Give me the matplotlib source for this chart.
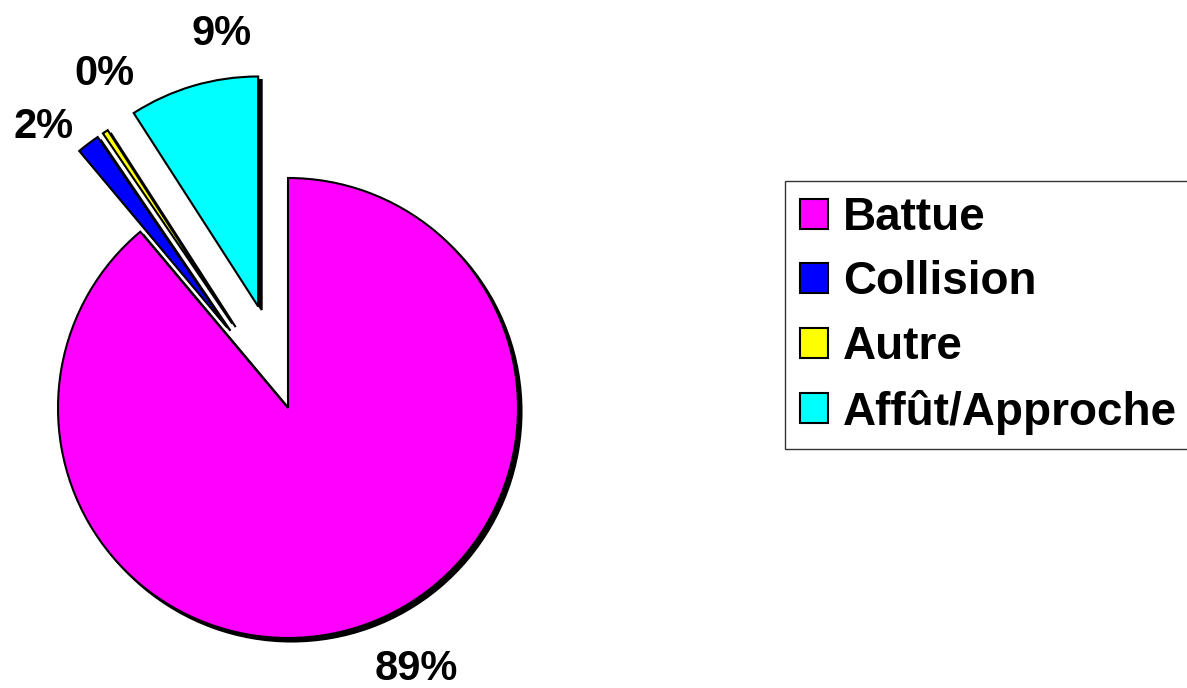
import matplotlib
matplotlib.use("Agg")
import matplotlib.pyplot as plt

# ---- data ----
categories = ["Battue", "Collision", "Autre", "Affût/Approche"]
values = [88.9, 1.6, 0.4, 9.1]
colors = ["#FF00FF", "#0000FF", "#FFFF00", "#00FFFF"]
explode = [0.0, 0.44, 0.44, 0.46]

plt.rcParams['font.family'] = ['Liberation Sans', 'DejaVu Sans']

W, H = 1187, 688
fig = plt.figure(figsize=(W / 100, H / 100), dpi=100)
ax = fig.add_axes([0, 0, 1, 1])
R = 230.0
cx, cy = 288.0, 408.0

# shadow
sh = 3.5 / R
ax.pie(values, explode=explode, colors=['black'] * len(values), startangle=90,
       counterclock=False, radius=1, center=(sh, -sh),
       wedgeprops=dict(edgecolor='black', linewidth=1.5), frame=True)

wedges, _, autotexts = ax.pie(values, explode=explode, colors=colors, startangle=90,
                              counterclock=False, radius=1, center=(0, 0),
                              autopct='%1.0f%%', pctdistance=1.2,
                              wedgeprops=dict(edgecolor='black', linewidth=1.5),
                              frame=True)
ax.set_xlim(-cx / R, (W - cx) / R)
ax.set_ylim(-(H - cy) / R, cy / R)
ax.set_aspect('equal')
ax.axis('off')

label_pos = [(0.557, -1.183), (-1.061, 1.174), (-0.796, 1.404), (-0.291, 1.578)]
for t, p in zip(autotexts, label_pos):
    t.set_position(p)
    t.set_ha('center')
    t.set_va('baseline')
    t.set_fontsize(30)
    t.set_fontweight('bold')
    t.set_color('black')

leg = fig.legend(wedges, categories, loc='upper left',
                 bbox_to_anchor=(785 / W, 1 - 181 / H),
                 prop=dict(size=33, weight='bold'),
                 frameon=True, fancybox=False, shadow=False,
                 handlelength=0.61, handleheight=0.63, handletextpad=0.33,
                 labelspacing=0.45, borderpad=0.32, borderaxespad=0.0)
leg.get_frame().set_edgecolor('black')
leg.get_frame().set_linewidth(1.0)

fig.savefig('out.png', dpi=100)
